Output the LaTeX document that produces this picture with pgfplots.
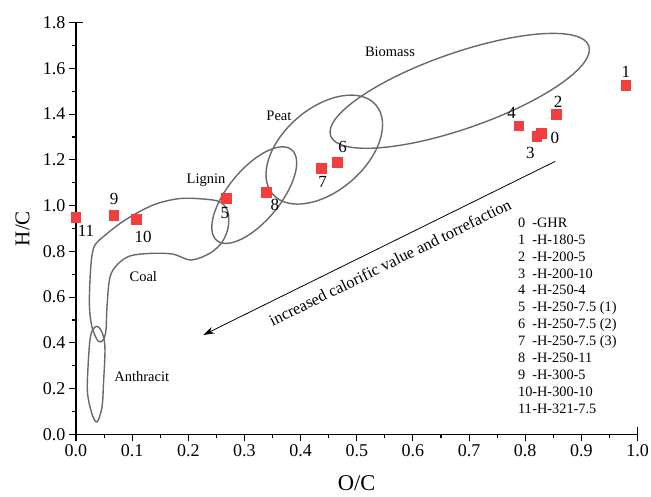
\documentclass[border=0pt]{standalone}
\usepackage{pgfplots}
\pgfplotsset{compat=1.18}
\usetikzlibrary{arrows.meta}
\usepackage{fontspec}
\setmainfont{Liberation Serif}
\definecolor{ptred}{RGB}{242,62,62}
\definecolor{ellgray}{RGB}{105,105,105}
\newcommand{\lab}{\fontsize{17}{19}\selectfont}
\newcommand{\reg}{\fontsize{14.5}{16}\selectfont}
\begin{document}
\begin{tikzpicture}
\useasboundingbox (-76pt,-61.7pt) rectangle (575pt,434.3pt);
\begin{axis}[
  at={(0,0)}, anchor=south west,
  scale only axis, width=561.5pt, height=411.6pt,
  xmin=0, xmax=1, ymin=0, ymax=1.8,
  axis lines*=left,
  axis line style={line width=1.2pt},
  xtick={0,0.1,0.2,0.3,0.4,0.5,0.6,0.7,0.8,0.9,1.0},
  ytick={0,0.2,0.4,0.6,0.8,1.0,1.2,1.4,1.6,1.8},
  minor x tick num=1, minor y tick num=1,
  tick align=outside,
  major tick length=7pt, minor tick length=4pt,
  tick style={line width=1.1pt, black},
  extra x ticks={1.0}, extra x tick labels={},
  extra y ticks={1.8}, extra y tick labels={},
  extra tick style={tick align=center, major tick length=14pt},
  ticklabel style={font=\fontsize{18}{20}\selectfont},
  /pgf/number format/.cd, fixed, fixed zerofill, precision=1, assume math mode=true,
  /pgfplots/.cd,
  xlabel={O/C}, ylabel={H/C},
  xlabel style={font=\fontsize{22.5}{25}\selectfont, inner sep=0pt, at={(axis description cs:0.5,-0.118)}, anchor=center},
  ylabel style={font=\fontsize{21}{24}\selectfont, inner sep=0pt, at={(axis description cs:-0.0953,0.5)}, anchor=center},
]
% region outlines
\draw[ellgray, line width=1.4pt, rotate around={19.2:(axis cs:0.6834,1.502)}] (axis cs:0.6834,1.502) ellipse [x radius=136.7pt, y radius=37.9pt];
\draw[ellgray, line width=1.4pt, rotate around={40.8:(axis cs:0.4422,1.245)}] (axis cs:0.4422,1.245) ellipse [x radius=68.2pt, y radius=41.4pt];
\draw[ellgray, line width=1.4pt, rotate around={50.5:(axis cs:0.3174,1.046)}] (axis cs:0.3174,1.046) ellipse [x radius=58.8pt, y radius=26pt];
\draw[ellgray, line width=1.4pt] plot[smooth cycle, tension=0.55] coordinates {
 (axis cs:0.0392,0.408) (axis cs:0.0285,0.469) (axis cs:0.0240,0.557) (axis cs:0.0249,0.675)
 (axis cs:0.0280,0.775) (axis cs:0.0338,0.828) (axis cs:0.0481,0.863) (axis cs:0.0784,0.922)
 (axis cs:0.1086,0.968) (axis cs:0.1443,1.009) (axis cs:0.1852,1.031) (axis cs:0.2262,1.029)
 (axis cs:0.2565,1.016) (axis cs:0.2707,0.972) (axis cs:0.2707,0.902) (axis cs:0.2600,0.840)
 (axis cs:0.2386,0.792) (axis cs:0.2048,0.762) (axis cs:0.1728,0.788) (axis cs:0.1318,0.791)
 (axis cs:0.0962,0.780) (axis cs:0.0748,0.745) (axis cs:0.0606,0.688) (axis cs:0.0552,0.557)
 (axis cs:0.0534,0.456) (axis cs:0.0481,0.412)};
\draw[ellgray, line width=1.4pt] plot[smooth cycle, tension=0.55] coordinates {
 (axis cs:0.0303,0.460) (axis cs:0.0392,0.471) (axis cs:0.0481,0.434) (axis cs:0.0516,0.369)
 (axis cs:0.0490,0.224) (axis cs:0.0463,0.119) (axis cs:0.0374,0.054) (axis cs:0.0285,0.089)
 (axis cs:0.0205,0.181) (axis cs:0.0214,0.294) (axis cs:0.0249,0.412)};
% region names
\node[font=\reg] at (axis cs:0.5592,1.673) {Biomass};
\node[font=\reg] at (axis cs:0.3615,1.392) {Peat};
\node[font=\reg] at (axis cs:0.2315,1.112) {Lignin};
\node[font=\reg] at (axis cs:0.1199,0.689) {Coal};
\node[font=\reg] at (axis cs:0.117,0.252) {Anthracit};
% arrow
\draw[-{Stealth[length=11pt,width=7pt]}, line width=0.8pt] (axis cs:0.8536,1.1937) -- (axis cs:0.2267,0.4342);
\node[rotate=26.2, anchor=base, font=\fontsize{16.3}{18}\selectfont] at (axis cs:0.5637,0.7293) {increased calorific value and torrefaction};
% samples
\addplot[only marks, mark=square*, mark size=4.8pt, mark options={fill=ptred, draw=ptred, line width=0pt}] coordinates {
 (0.821,1.302) (0.829,1.316) (0.9795,1.526) (0.856,1.399) (0.789,1.348)
 (0.268,1.031) (0.466,1.189) (0.4376,1.163) (0.3396,1.058)
 (0.0677,0.957) (0.108,0.940) (0.0,0.949)};
% point labels
\node[font=\lab, xshift=13.3pt, yshift=-5pt] at (axis cs:0.829,1.316) {0};
\node[font=\lab, yshift=13.6pt] at (axis cs:0.9795,1.526) {1};
\node[font=\lab, xshift=1.6pt, yshift=12.6pt] at (axis cs:0.856,1.399) {2};
\node[font=\lab, xshift=-6.7pt, yshift=-16pt] at (axis cs:0.821,1.302) {3};
\node[font=\lab, xshift=-7.3pt, yshift=13.3pt] at (axis cs:0.789,1.348) {4};
\node[font=\lab, xshift=-1.7pt, yshift=-14.6pt] at (axis cs:0.268,1.031) {5};
\node[font=\lab, xshift=5pt, yshift=15.6pt] at (axis cs:0.466,1.189) {6};
\node[font=\lab, xshift=1pt, yshift=-13.4pt] at (axis cs:0.4376,1.163) {7};
\node[font=\lab, xshift=8.3pt, yshift=-12.7pt] at (axis cs:0.3396,1.058) {8};
\node[font=\lab, yshift=16.3pt] at (axis cs:0.0677,0.957) {9};
\node[font=\lab, xshift=6.6pt, yshift=-17.4pt] at (axis cs:0.108,0.940) {10};
\node[font=\lab, xshift=10pt, yshift=-14pt] at (axis cs:0.0,0.949) {11};
% key
\node[anchor=base west, inner sep=0pt, font=\fontsize{14.3}{16.9}\selectfont] at (axis cs:0.787,0.905) {%
\begin{tabular}[t]{@{}l@{}l@{}}
0 & -GHR\\
1 & -H-180-5\\
2 & -H-200-5\\
3 & -H-200-10\\
4 & -H-250-4\\
5 & -H-250-7.5 (1)\\
6 & -H-250-7.5 (2)\\
7 & -H-250-7.5 (3)\\
8 & -H-250-11\\
9 & -H-300-5\\
10 & -H-300-10\\
11 & -H-321-7.5
\end{tabular}};
\end{axis}
\end{tikzpicture}
\end{document}
